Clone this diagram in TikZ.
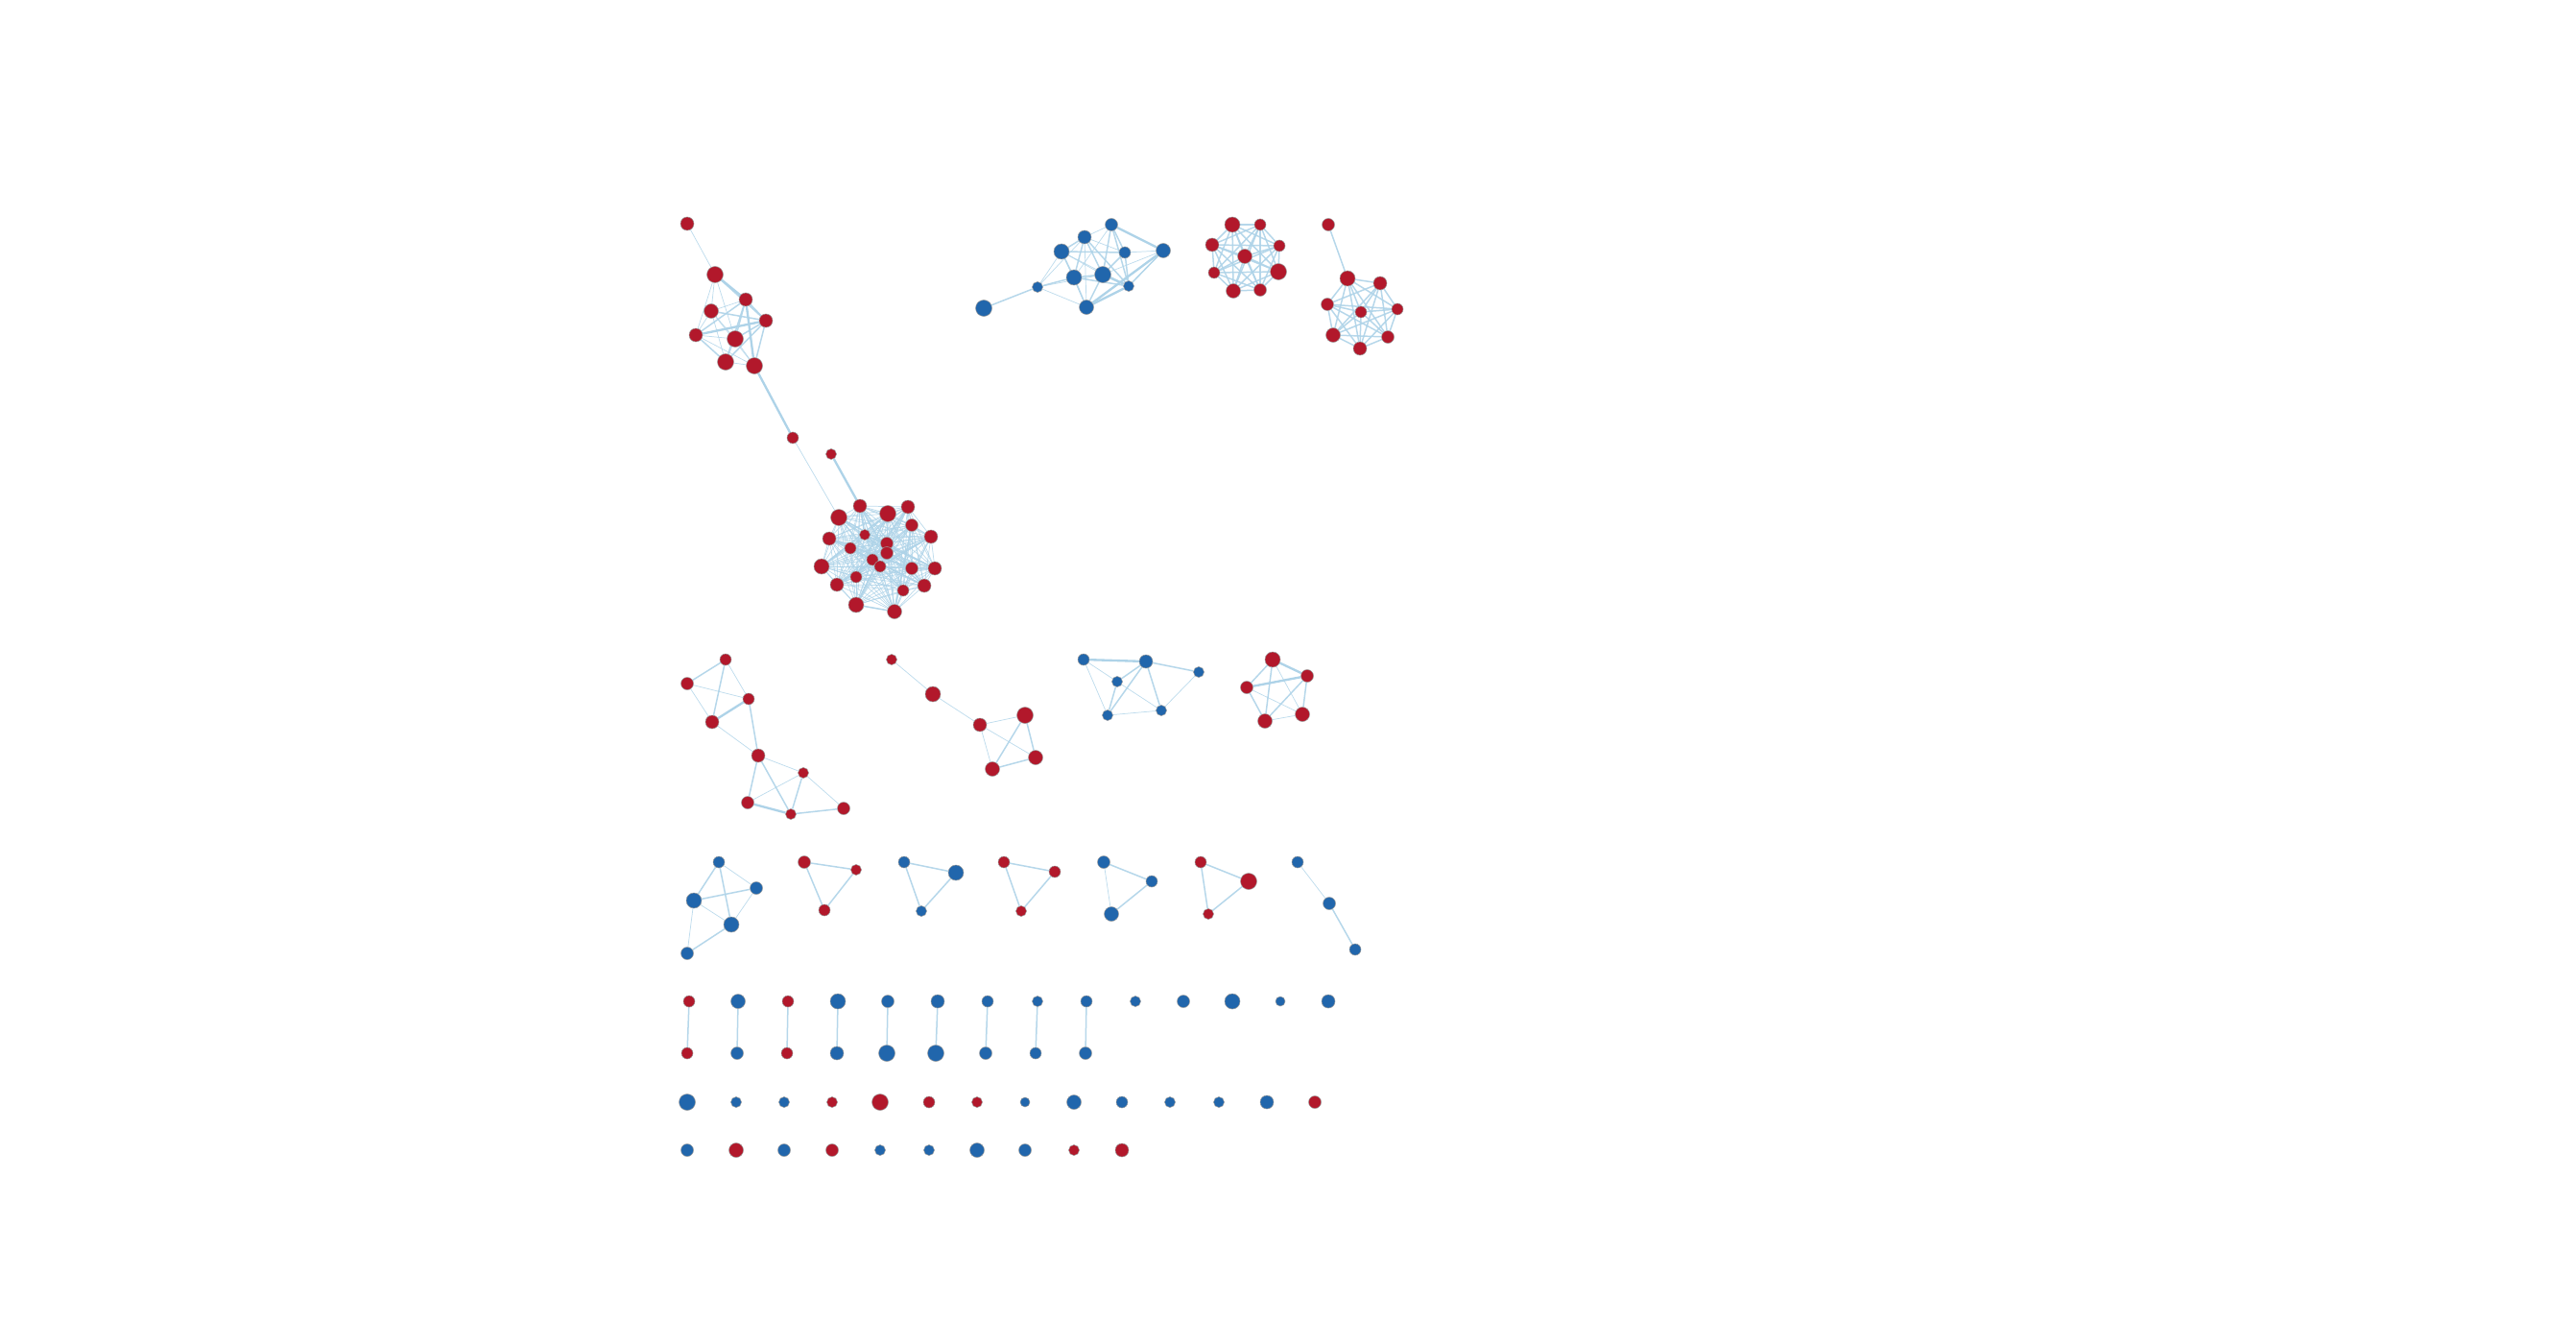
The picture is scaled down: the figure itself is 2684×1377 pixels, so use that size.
\documentclass[tikz,border=0pt]{standalone}
\usepackage{tikz}
\usetikzlibrary{backgrounds}
\definecolor{nodered}{RGB}{178,24,43}
\definecolor{nodeblue}{RGB}{33,102,172}
\definecolor{edgeblue}{RGB}{174,211,232}
\begin{document}
\begin{tikzpicture}[x=0.3pt,y=-0.3pt,
    nd/.style={circle,fill=#1,draw=black!40,line width=0.15pt,inner sep=0pt},
    rn/.style={nd=nodered,minimum size=#1*0.6pt},
    bn/.style={nd=nodeblue,minimum size=#1*0.6pt},
    eth/.style={edgeblue,line width=0.22pt,opacity=0.8},
    etm/.style={edgeblue,line width=0.45pt,opacity=0.9},
    etk/.style={edgeblue,line width=0.7pt}]
      \useasboundingbox (0,0) rectangle (2684,1377);
      \node [rn=7] (a0) at (716,233) {};
      \node [rn=8.5] (a1) at (745,286) {};
      \node [rn=7] (a2) at (777,312) {};
      \node [rn=7.5] (a3) at (741,324) {};
      \node [rn=7] (a4) at (798,334) {};
      \node [rn=7] (a5) at (725,349) {};
      \node [rn=8.5] (a6) at (766,353) {};
      \node [rn=8.5] (a7) at (756,377) {};
      \node [rn=8.5] (a8) at (786,381) {};
      \node [rn=6] (b0) at (826,456) {};
      \node [rn=5.5] (b1) at (866,473) {};
      \node [bn=8.5] (c0) at (1025,321) {};
      \node [bn=5.5] (c1) at (1081,299) {};
      \node [bn=8] (c2) at (1106,262) {};
      \node [bn=7] (c3) at (1130,247) {};
      \node [bn=6.5] (c4) at (1158,234) {};
      \node [bn=6] (c5) at (1172,263) {};
      \node [bn=7.5] (c6) at (1212,261) {};
      \node [bn=8] (c7) at (1119,289) {};
      \node [bn=8.5] (c8) at (1149,286) {};
      \node [bn=5.5] (c9) at (1176,298) {};
      \node [bn=7.5] (c10) at (1132,320) {};
      \node [rn=8] (d0) at (1284,234) {};
      \node [rn=6] (d1) at (1313,234) {};
      \node [rn=7] (d2) at (1263,255) {};
      \node [rn=6] (d3) at (1333,256) {};
      \node [rn=7.5] (d4) at (1297,267) {};
      \node [rn=6] (d5) at (1265,284) {};
      \node [rn=8.5] (d6) at (1332,283) {};
      \node [rn=7.5] (d7) at (1285,303) {};
      \node [rn=6.5] (d8) at (1313,302) {};
      \node [rn=6.5] (e0) at (1384,234) {};
      \node [rn=8] (e1) at (1404,290) {};
      \node [rn=7] (e2) at (1438,295) {};
      \node [rn=6.5] (e3) at (1383,317) {};
      \node [rn=6] (e4) at (1418,325) {};
      \node [rn=6] (e5) at (1456,322) {};
      \node [rn=7.5] (e6) at (1389,349) {};
      \node [rn=6.5] (e7) at (1446,351) {};
      \node [rn=7] (e8) at (1417,363) {};
      \node [rn=7] (f2) at (896,527) {};
      \node [rn=8.5] (f3) at (874,539) {};
      \node [rn=8.5] (f4) at (925,535) {};
      \node [rn=7] (f5) at (946,528) {};
      \node [rn=6.5] (f6) at (950,547) {};
      \node [rn=7] (f7) at (970,559) {};
      \node [rn=7] (f8) at (864,561) {};
      \node [rn=5.5] (f9) at (901,557) {};
      \node [rn=6.5] (f10) at (924,566) {};
      \node [rn=6] (f11) at (886,571) {};
      \node [rn=6.5] (f12) at (924,576) {};
      \node [rn=8] (f13) at (856,590) {};
      \node [rn=6] (f14) at (909,583) {};
      \node [rn=6] (f15) at (917,590) {};
      \node [rn=6.5] (f16) at (950,592) {};
      \node [rn=7] (f17) at (974,592) {};
      \node [rn=6] (f18) at (892,601) {};
      \node [rn=7] (f19) at (872,609) {};
      \node [rn=7] (f20) at (963,610) {};
      \node [rn=6] (f21) at (941,615) {};
      \node [rn=8] (f22) at (892,630) {};
      \node [rn=7.5] (f23) at (932,637) {};
      \node [rn=6] (g0) at (756,687) {};
      \node [rn=6.5] (g1) at (716,712) {};
      \node [rn=6] (g2) at (780,728) {};
      \node [rn=7] (g3) at (742,752) {};
      \node [rn=7] (g4) at (790,787) {};
      \node [rn=5.5] (g5) at (837,805) {};
      \node [rn=6.5] (g6) at (779,836) {};
      \node [rn=5.5] (g7) at (824,848) {};
      \node [rn=6.5] (g8) at (879,842) {};
      \node [rn=5.5] (h0) at (929,687) {};
      \node [rn=8] (h1) at (972,723) {};
      \node [rn=7] (h2) at (1021,755) {};
      \node [rn=8.5] (h3) at (1068,745) {};
      \node [rn=7.5] (h4) at (1079,789) {};
      \node [rn=7.5] (h5) at (1034,801) {};
      \node [bn=6] (i0) at (1129,687) {};
      \node [bn=7] (i1) at (1194,689) {};
      \node [bn=5.5] (i2) at (1249,700) {};
      \node [bn=5.5] (i3) at (1164,710) {};
      \node [bn=5.5] (i4) at (1154,745) {};
      \node [bn=5.5] (i5) at (1210,740) {};
      \node [rn=8] (j0) at (1326,687) {};
      \node [rn=6.5] (j1) at (1362,704) {};
      \node [rn=6.5] (j2) at (1299,716) {};
      \node [rn=7.5] (j3) at (1357,744) {};
      \node [rn=7.5] (j4) at (1318,751) {};
      \node [bn=6] (k0) at (749,898) {};
      \node [bn=6.5] (k1) at (788,925) {};
      \node [bn=8] (k2) at (723,938) {};
      \node [bn=8] (k3) at (762,963) {};
      \node [bn=6.5] (k4) at (716,993) {};
      \node [rn=6.5] (l0) at (838,898) {};
      \node [rn=5.5] (l1) at (892,906) {};
      \node [rn=6] (l2) at (859,948) {};
      \node [bn=6] (m0) at (942,898) {};
      \node [bn=8] (m1) at (996,909) {};
      \node [bn=5.5] (m2) at (960,949) {};
      \node [rn=6] (n0) at (1046,898) {};
      \node [rn=6] (n1) at (1099,908) {};
      \node [rn=5.5] (n2) at (1064,949) {};
      \node [bn=6.5] (o0) at (1150,898) {};
      \node [bn=6] (o1) at (1200,918) {};
      \node [bn=7.5] (o2) at (1158,952) {};
      \node [rn=6] (p0) at (1251,898) {};
      \node [rn=8.5] (p1) at (1301,918) {};
      \node [rn=5.5] (p2) at (1259,952) {};
      \node [bn=6] (q0) at (1352,898) {};
      \node [bn=6.5] (q1) at (1385,941) {};
      \node [bn=6] (q2) at (1412,989) {};
      \foreach \x/\c/\r/\y/\d/\s [count=\n] in {718/nodered/6/716/nodered/6, 769/nodeblue/7.5/768/nodeblue/6.5,
          821/nodered/6/820/nodered/6, 873/nodeblue/8/872/nodeblue/7, 925/nodeblue/6.5/924/nodeblue/8.5,
          977/nodeblue/7/975/nodeblue/8.5, 1029/nodeblue/6/1027/nodeblue/6.5, 1081/nodeblue/5.5/1079/nodeblue/6,
          1132/nodeblue/6/1131/nodeblue/6.5} {
        \node [nd=\c,minimum size=\r*0.6pt] (u\n) at (\x,1043) {};
        \node [nd=\d,minimum size=\s*0.6pt] (v\n) at (\y,1097) {};
      }
      \foreach \x/\c/\r [count=\n] in {1183/nodeblue/5.5, 1233/nodeblue/6.5, 1284/nodeblue/8, 1334/nodeblue/5, 1384/nodeblue/7}
        \node [nd=\c,minimum size=\r*0.6pt] (s\n) at (\x,1043) {};
      \foreach \x/\c/\r [count=\n] in {716/nodeblue/8.5, 767/nodeblue/5.5, 817/nodeblue/5.5, 867/nodered/5.5,
          917/nodered/8.5, 968/nodered/6, 1018/nodered/5.5, 1068/nodeblue/5, 1119/nodeblue/7.5, 1169/nodeblue/6,
          1219/nodeblue/5.5, 1270/nodeblue/5.5, 1320/nodeblue/7, 1370/nodered/6.5}
        \node [nd=\c,minimum size=\r*0.6pt] (t\n) at (\x,1148) {};
      \foreach \x/\c/\r [count=\n] in {716/nodeblue/6.5, 767/nodered/7.5, 817/nodeblue/6.5, 867/nodered/6.5,
          917/nodeblue/5.5, 968/nodeblue/5.5, 1018/nodeblue/7.5, 1068/nodeblue/6.5, 1119/nodered/5.5, 1169/nodered/7}
        \node [nd=\c,minimum size=\r*0.6pt] (w\n) at (\x,1198) {};
      \begin{pgfonlayer}{background}
      \foreach \a/\b in {a0/a1, a1/a3, a1/a5, a1/a6, a2/a3, a3/a5, a3/a6, a3/a7, a3/a8, a5/a6, a5/a8, a6/a7,
          a6/a8, a7/a8, b0/f3}
        \draw [eth] (\a) -- (\b);
      \foreach \a/\b in {a1/a4, a2/a5, a2/a6, a2/a7, a2/a4, a3/a4, a4/a6, a4/a7, a4/a8, a5/a7}
        \draw [etm] (\a) -- (\b);
      \foreach \a/\b in {a1/a2, a2/a8, a4/a5, a8/b0, b1/f2}
        \draw [etk] (\a) -- (\b);
      \foreach \a/\b in {c1/c2, c1/c8, c1/c10, c1/c3, c2/c8, c2/c10, c2/c9, c3/c4, c3/c5, c3/c10, c4/c7,
          c5/c6, c6/c8, c6/c9}
        \draw [eth] (\a) -- (\b);
      \foreach \a/\b in {c0/c1, c1/c7, c2/c3, c2/c7, c2/c5, c3/c7, c3/c8, c3/c9, c4/c5, c4/c8, c4/c9, c5/c8,
          c5/c9, c7/c8, c7/c10, c7/c9, c8/c10, c9/c6}
        \draw [etm] (\a) -- (\b);
      \foreach \a/\b in {c4/c6, c8/c9, c6/c10, c10/c9}
        \draw [etk] (\a) -- (\b);
      \foreach \i in {0,...,7} {
        \pgfmathtruncatemacro\k{\i+1}
        \foreach \j in {\k,...,8}
          \draw [etm] (d\i) -- (d\j);
      }
      \draw [etm] (e0) -- (e1);
      \foreach \i in {1,...,7} {
        \pgfmathtruncatemacro\k{\i+1}
        \foreach \j in {\k,...,8}
          \draw [etm] (e\i) -- (e\j);
      }
      \foreach \i in {2,...,22} {
        \pgfmathtruncatemacro\k{\i+1}
        \foreach \j in {\k,...,23}
          \draw [eth] (f\i) -- (f\j);
      }
      \foreach \a/\b in {f2/f9, f2/f12, f3/f10, f4/f13, f4/f18, f5/f14, f8/f16, f9/f17, f10/f22, f11/f20,
          f12/f19, f6/f23, f22/f23, f7/f15}
        \draw [etm] (\a) -- (\b);
      \foreach \a/\b in {g0/g2, g1/g2, g1/g3, g3/g4, g4/g5, g6/g5, g5/g8, h0/h1, h1/h2, h2/h3, h2/h4, h2/h5,
          i0/i3, i0/i4, i3/i5, i4/i5, i2/i5, j0/j3, j2/j3, j4/j3, k0/k1, k2/k3, k2/k4, k1/k3, o0/o2, q0/q1}
        \draw [eth] (\a) -- (\b);
      \foreach \a/\b in {g0/g1, g0/g3, g2/g4, g4/g6, g4/g7, g5/g7, g7/g8, h3/h5, h3/h4, h5/h4, i1/i3, i1/i4,
          i1/i5, i1/i2, i3/i4, j0/j2, j0/j4, j2/j4, j1/j4, j1/j3, k0/k2, k0/k3, k2/k1, k3/k4, l0/l1, l0/l2, l2/l1,
          m0/m1, m0/m2, m2/m1, n0/n1, n0/n2, n2/n1, o0/o1, o2/o1, p0/p1, p0/p2, p2/p1, q1/q2}
        \draw [etm] (\a) -- (\b);
      \foreach \a/\b in {g3/g2, g6/g7, i0/i1, j0/j1, j2/j1}
        \draw [etk] (\a) -- (\b);
      \foreach \n in {1,...,9}
        \draw [etm] (u\n) -- (v\n);
      \end{pgfonlayer}
    \end{tikzpicture}
\end{document}
